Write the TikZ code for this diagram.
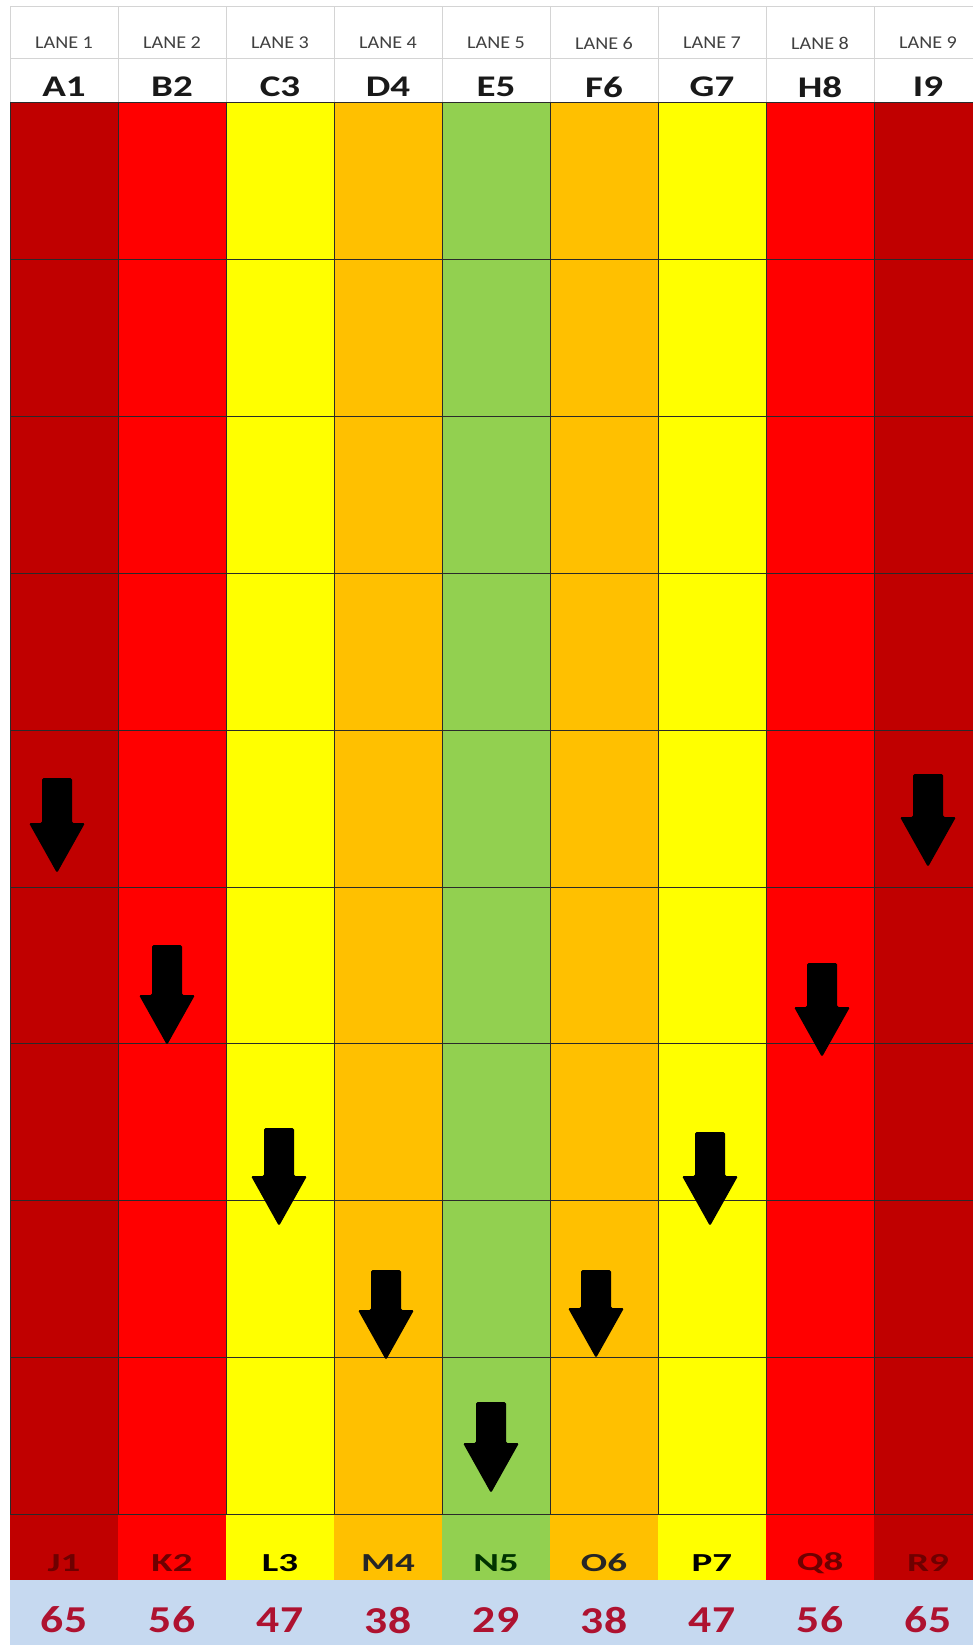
\documentclass[tikz,border=0pt]{standalone}
\usepackage{fontspec}
\setmainfont{Carlito}
\definecolor{cdr}{HTML}{C00000}
\definecolor{cr}{HTML}{FF0000}
\definecolor{cy}{HTML}{FFFF00}
\definecolor{co}{HTML}{FFC000}
\definecolor{cg}{HTML}{92D050}
\definecolor{cblue}{HTML}{C6D9F0}
\definecolor{numred}{HTML}{AE1230}
\definecolor{lbldark}{HTML}{6E0000}
\definecolor{lanegray}{HTML}{404040}
\definecolor{hdrline}{HTML}{D4D4D4}
\definecolor{gridline}{HTML}{2A2A2A}
\newcommand{\wide}[2]{\scalebox{#1}[1]{#2}}
\tikzset{
  lanetxt/.style={inner sep=0pt, text=lanegray, font=\fontsize{18}{18}\selectfont},
  hdrtxt/.style={inner sep=0pt, text=black!90, font=\fontsize{30}{30}\selectfont\bfseries},
  lbltxt/.style={inner sep=0pt, font=\fontsize{26}{26}\selectfont\bfseries},
  numtxt/.style={inner sep=0pt, text=numred, font=\fontsize{38}{38}\selectfont\bfseries},
  hline/.style={draw=hdrline, line width=1pt},
  gline/.style={draw=gridline, line width=1pt},
  arrowshape/.style={fill=black, rounded corners=1.5pt}
}
\begin{document}
\begin{tikzpicture}[x=1pt,y=-1pt]
\useasboundingbox (0,0) rectangle (973,1645);
\fill[white] (0,0) rectangle (973,1645);
% coloured lanes
\foreach \i/\c in {0/cdr,1/cr,2/cy,3/co,4/cg,5/co,6/cy,7/cr,8/cdr}
  \fill[\c] ({10+108*\i},103) rectangle ({118+108*\i},1580);
% blue total row
\fill[cblue] (10,1580) rectangle (973,1645);
% header lines
\foreach \y in {7,59} \draw[hline] (10,\y) -- (982,\y);
\foreach \i in {0,...,9} \draw[hline] ({10+108*\i},7) -- ({10+108*\i},103);
% grid lines
\foreach \k in {0,...,9} \draw[gline] (10,{103+156.8*\k}) -- (982,{103+156.8*\k});
\foreach \i in {0,...,9} \draw[gline] ({10+108*\i},103) -- ({10+108*\i},1514);
% texts
\foreach \i/\h/\l/\n/\tc in {1/A1/J1/65/lbldark,2/B2/K2/56/lbldark,3/C3/L3/47/black,4/D4/M4/38/black!85,5/E5/N5/29/black!80!green,6/F6/O6/38/black!85,7/G7/P7/47/black,8/H8/Q8/56/lbldark,9/I9/R9/65/lbldark}{
  \node[lanetxt] (lane\i) at ({10+108*\i-54},43) {\wide{1.12}{LANE \i}};
  \node[hdrtxt] (hdr\i) at ({10+108*\i-54},87) {\wide{1.3}{\h}};
  \node[lbltxt, text=\tc] (lbl\i) at ({10+108*\i-54},1563) {\wide{1.5}{\l}};
  \node[numtxt] (num\i) at ({10+108*\i-54},1620) {\wide{1.2}{\n}};
}
% arrows
\foreach \cx/\t/\l in {57/778/95,167/945/100,279/1128/98,386/1270/90,491/1402/91,596/1270/88,710/1132/94,822/963/94,928/774/93}
  \fill[arrowshape] ({\cx-15},\t) -- ({\cx+15},\t) -- ({\cx+15},{\t+\l-50}) -- ({\cx+28},{\t+\l-50}) -- (\cx,{\t+\l}) -- ({\cx-28},{\t+\l-50}) -- ({\cx-15},{\t+\l-50}) -- cycle;
\end{tikzpicture}
\end{document}
